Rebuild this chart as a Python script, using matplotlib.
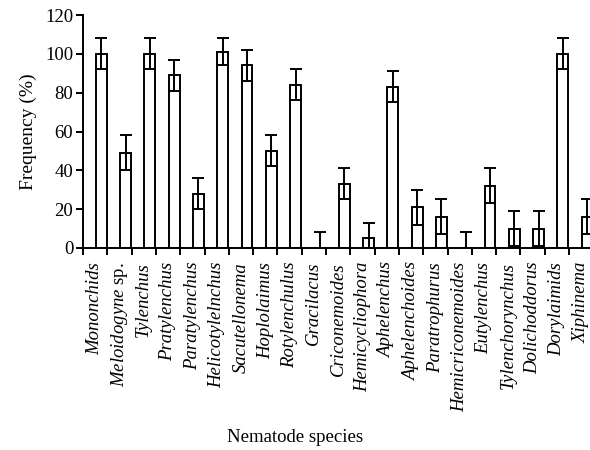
import numpy as np
import matplotlib
matplotlib.use("Agg")
import matplotlib.pyplot as plt

species = ["Mononchids", r"$Meloidogyne\ \mathrm{sp.}$", "Tylenchus", "Pratylenchus",
           "Paratylenchus", "Helicotylelnchus", "Sacutellonema", "Hoplolaimus",
           "Rotylenchulus", "Gracilacus", "Criconemoides", "Hemicycliophora",
           "Aphelenchus", "Aphelenchoides", "Paratrophurus", "Hemicriconemoides",
           "Eutylenchus", "Tylenchorynchus", "Dolichoddorus", "Dorylaimids",
           "Xiphinema"]
frequency = [100, 49, 100, 89, 28, 101, 94, 50, 84, 0, 33, 5,
             83, 21, 16, 0, 32, 10, 10, 100, 16]
error = [8, 9, 8, 8, 8, 7, 8, 8, 8, 8, 8, 8,
         8, 9, 9, 8, 9, 9, 9, 8, 9]

plt.rcParams['font.family'] = ['Liberation Serif', 'DejaVu Serif']
plt.rcParams['mathtext.fontset'] = 'custom'
plt.rcParams['mathtext.rm'] = 'Liberation Serif'
plt.rcParams['mathtext.it'] = 'Liberation Serif:italic'

fig = plt.figure(figsize=(5.9, 4.5), dpi=100)
# axes runs past the right edge of the figure, as in the original
ax = fig.add_axes([83 / 590, 202 / 450, 534.6 / 590, 233 / 450])

x = np.arange(len(species))
ax.bar(x + 0.25, frequency, width=0.45, color='white', edgecolor='black',
       linewidth=1.4, zorder=2)
ax.errorbar(x + 0.25, frequency, yerr=error, fmt='none', ecolor='black',
            elinewidth=1.4, capsize=4.2, capthick=1.4, zorder=3)

ax.set_xlim(-0.5, 21.5)
ax.set_ylim(0, 120)
ax.set_yticks(range(0, 121, 20))
ax.set_xticks(np.arange(-0.5, 21, 1.0))
ax.set_xticklabels([])
ax.set_xticks(x, minor=True)
ax.set_xticklabels(species, minor=True, rotation=90, style='italic',
                   fontsize=13.5)
ax.tick_params(axis='x', which='major', direction='out', length=5, width=1.4)
ax.tick_params(axis='x', which='minor', length=0, pad=10)
ax.tick_params(axis='y', direction='out', length=5, width=1.4, labelsize=13.5,
               pad=2)

for s in ['top', 'right']:
    ax.spines[s].set_visible(False)
for s in ['left', 'bottom']:
    ax.spines[s].set_linewidth(1.4)

ax.set_ylabel("Frequency (%)", fontsize=14, labelpad=6)
fig.text(0.5, 12 / 450, "Nematode species", ha='center', va='center',
         fontsize=13.5)

fig.savefig("out.png", dpi=100)
